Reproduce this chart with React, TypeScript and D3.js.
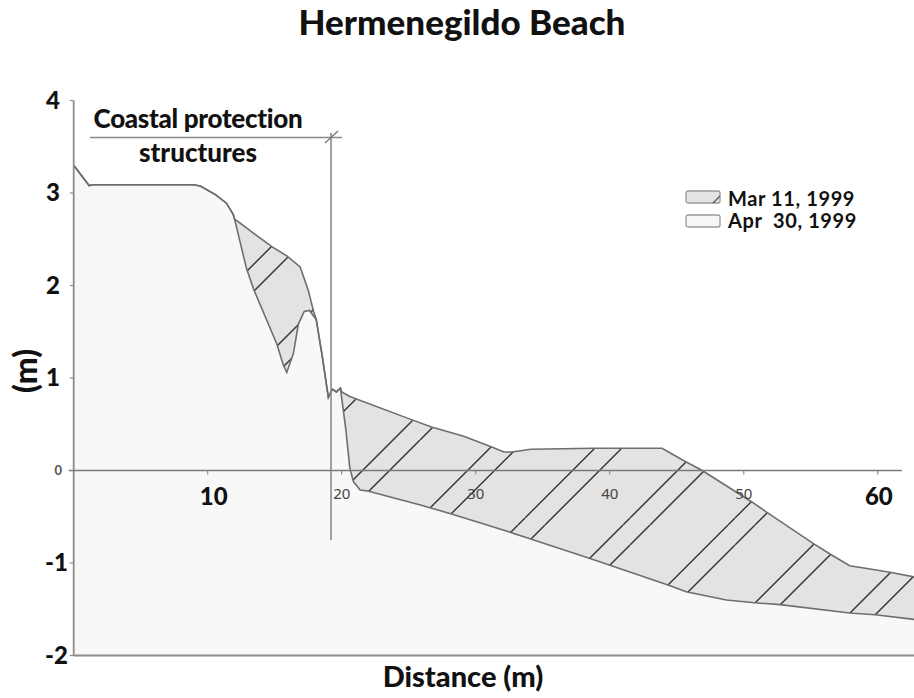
import React, { useRef, useEffect } from 'react';
import * as d3 from 'd3';

// Apr 30, 1999 profile (lower one)
const aprDistance = [0, 1.15, 1.45, 8.9, 9.45, 10.6, 11.4, 11.9, 12.0, 12.9, 13.45, 15.15, 15.64, 15.9, 16.4, 16.76, 17.2, 17.6, 18.1, 18.55, 19.0, 19.3, 19.6, 19.9, 20.3, 20.6, 20.87, 21.37, 21.87, 25.8, 28.2, 32.4, 34.1, 38.3, 39.3, 44.4, 45.7, 48.7, 50.8, 52.7, 57.9, 59.8, 62.7];
const aprElevation = [3.3, 3.08, 3.09, 3.09, 3.075, 2.98, 2.89, 2.77, 2.72, 2.18, 1.95, 1.37, 1.14, 1.06, 1.27, 1.58, 1.72, 1.73, 1.63, 1.23, 0.79, 0.88, 0.85, 0.89, 0.45, 0.03, -0.12, -0.21, -0.22, -0.37, -0.47, -0.66, -0.74, -0.94, -0.99, -1.24, -1.31, -1.4, -1.43, -1.45, -1.54, -1.56, -1.61];

// Mar 11, 1999 profile (upper one)
const marDistance = [0, 1.15, 1.45, 8.9, 9.45, 10.6, 11.4, 11.9, 12.0, 14.78, 15.9, 16.9, 17.5, 17.9, 18.1, 18.55, 19.0, 19.3, 19.6, 19.9, 20.0, 20.6, 25.2, 26.7, 29.1, 31.1, 32.1, 32.7, 34.1, 38.8, 43.9, 45.6, 46.9, 50.6, 51.7, 55.2, 56.4, 57.9, 59.2, 60.9, 62.7];
const marElevation = [3.3, 3.08, 3.09, 3.09, 3.075, 2.98, 2.89, 2.77, 2.72, 2.42, 2.32, 2.2, 1.95, 1.72, 1.63, 1.23, 0.79, 0.88, 0.85, 0.89, 0.85, 0.8, 0.55, 0.47, 0.37, 0.26, 0.2, 0.2, 0.23, 0.24, 0.24, 0.1, 0.0, -0.34, -0.45, -0.79, -0.9, -1.03, -1.06, -1.1, -1.15];

const smallXTicks = [20, 30, 40, 50];
const bigXTicks = [10, 60];
const yTicks = [4, 3, 2, 1, 0, -1, -2];
const legendLabels = ['Mar 11, 1999', 'Apr  30, 1999'];

const FONT = 'Lato, "Open Sans", sans-serif';

const App = () => {
  const svgRef = useRef<SVGSVGElement>(null);

  useEffect(() => {
    const width = 914;
    const height = 698;
    const svg = d3.select(svgRef.current).attr('width', width).attr('height', height);
    svg.selectAll('*').remove();

    const x = d3.scaleLinear().domain([0, 62.7]).range([73.7, 914]);
    const y = d3.scaleLinear().domain([-2, 4]).range([655.5, 100.5]);

    const apr = aprDistance.map((d, i) => [d, aprElevation[i]] as [number, number]);
    const mar = marDistance.map((d, i) => [d, marElevation[i]] as [number, number]);

    // hatch for the eroded sand, two lines per period
    const defs = svg.append('defs');
    const pat = defs
      .append('pattern')
      .attr('id', 'hatch')
      .attr('patternUnits', 'userSpaceOnUse')
      .attr('x', 0)
      .attr('y', 0)
      .attr('width', 105)
      .attr('height', 105);
    [20, 98, 125, 203].forEach((c) => {
      pat
        .append('line')
        .attr('x1', Math.min(c, 105))
        .attr('y1', c - Math.min(c, 105))
        .attr('x2', c - Math.min(c, 105))
        .attr('y2', Math.min(c, 105))
        .attr('stroke', '#333')
        .attr('stroke-width', 1.4);
    });

    const area = d3
      .area<[number, number]>()
      .x((d) => x(d[0]))
      .y0(y(-2))
      .y1((d) => y(d[1]));
    const line = d3
      .line<[number, number]>()
      .x((d) => x(d[0]))
      .y((d) => y(d[1]));

    svg.append('path').attr('d', area(mar)).attr('fill', '#e3e3e3');
    svg.append('path').attr('d', area(mar)).attr('fill', 'url(#hatch)');
    svg.append('path').attr('d', area(apr)).attr('fill', '#f8f8f8');

    svg.append('path').attr('d', line(mar)).attr('fill', 'none').attr('stroke', '#6e6e6e').attr('stroke-width', 1.6);
    svg.append('path').attr('d', line(apr)).attr('fill', 'none').attr('stroke', '#6e6e6e').attr('stroke-width', 1.6);

    // axes
    svg.append('line').attr('x1', x(0)).attr('x2', x(0)).attr('y1', y(4)).attr('y2', y(-2)).attr('stroke', '#8c8c8c').attr('stroke-width', 1.8);
    svg.append('line').attr('x1', x(0)).attr('x2', width).attr('y1', y(-2)).attr('y2', y(-2)).attr('stroke', '#8c8c8c').attr('stroke-width', 1.8);
    svg.append('line').attr('x1', x(0) - 5).attr('x2', x(61.8)).attr('y1', y(0)).attr('y2', y(0)).attr('stroke', '#7a7a7a').attr('stroke-width', 1.6);

    svg
      .selectAll('.ytick')
      .data(yTicks)
      .enter()
      .append('line')
      .attr('x1', x(0) - 4)
      .attr('x2', x(0))
      .attr('y1', (d) => y(d))
      .attr('y2', (d) => y(d))
      .attr('stroke', '#8c8c8c')
      .attr('stroke-width', 1.2);

    svg
      .selectAll('.xtick')
      .data([10, 20, 30, 40, 50, 60])
      .enter()
      .append('line')
      .attr('x1', (d) => x(d))
      .attr('x2', (d) => x(d))
      .attr('y1', y(0))
      .attr('y2', y(0) + 4)
      .attr('stroke', '#7a7a7a')
      .attr('stroke-width', 1);

    svg
      .selectAll('.ylab')
      .data(yTicks.filter((d) => d !== 0))
      .enter()
      .append('text')
      .attr('x', (d) => (d < 0 ? 68 : 60))
      .attr('y', (d) => y(d))
      .attr('dy', '0.35em')
      .attr('text-anchor', 'end')
      .attr('font-family', FONT)
      .attr('font-weight', 900)
      .attr('font-size', 24)
      .attr('fill', '#111')
      .text((d) => (d < 0 ? '-' + Math.abs(d) : d));

    svg
      .append('text')
      .attr('x', 62)
      .attr('y', y(0))
      .attr('dy', '0.35em')
      .attr('text-anchor', 'end')
      .attr('font-family', FONT)
      .attr('font-weight', 700)
      .attr('font-size', 13)
      .attr('fill', '#555')
      .text('0');

    svg
      .selectAll('.xsmall')
      .data(smallXTicks)
      .enter()
      .append('text')
      .attr('x', (d) => x(d))
      .attr('y', y(0) + 28)
      .attr('text-anchor', 'middle')
      .attr('font-family', '"Noto Sans", sans-serif')
      .attr('font-size', 15)
      .attr('fill', '#444')
      .text((d) => d);

    svg
      .selectAll('.xbig')
      .data(bigXTicks)
      .enter()
      .append('text')
      .attr('x', (d) => (d === 10 ? x(d) + 6 : x(d) + 1))
      .attr('y', y(0) + 34)
      .attr('text-anchor', 'middle')
      .attr('font-family', FONT)
      .attr('font-weight', 900)
      .attr('font-size', 24)
      .attr('fill', '#111')
      .text((d) => d);

    // coastal protection structures marker
    const cx = x(19.2);
    svg.append('line').attr('x1', cx).attr('x2', cx).attr('y1', 133).attr('y2', 540).attr('stroke', '#8a8a8a').attr('stroke-width', 1.6);
    svg.append('line').attr('x1', 90).attr('x2', 342).attr('y1', 137.5).attr('y2', 137.5).attr('stroke', '#8a8a8a').attr('stroke-width', 1.6);
    svg.append('line').attr('x1', cx - 6).attr('x2', cx + 7).attr('y1', 143).attr('y2', 131).attr('stroke', '#777').attr('stroke-width', 1.3);
    svg
      .append('text')
      .attr('x', 198)
      .attr('y', 128)
      .attr('text-anchor', 'middle')
      .attr('font-family', FONT)
      .attr('font-weight', 900)
      .attr('font-size', 26)
      .attr('letter-spacing', -0.3)
      .attr('fill', '#111')
      .text('Coastal protection');
    svg
      .append('text')
      .attr('x', 198)
      .attr('y', 162)
      .attr('text-anchor', 'middle')
      .attr('font-family', FONT)
      .attr('font-weight', 900)
      .attr('font-size', 26)
      .attr('fill', '#111')
      .text('structures');

    // legend
    const legend = svg.append('g').attr('transform', 'translate(686,191)');
    legendLabels.forEach((label, i) => {
      const g = legend.append('g').attr('transform', `translate(0,${i * 24})`);
      g.append('rect')
        .attr('width', 34)
        .attr('height', 12)
        .attr('rx', 2)
        .attr('fill', i === 0 ? '#e3e3e3' : '#f6f6f6')
        .attr('stroke', '#999')
        .attr('stroke-width', 1.3);
      if (i === 0) {
        g.append('line').attr('x1', 27).attr('y1', 12).attr('x2', 34).attr('y2', 5).attr('stroke', '#555').attr('stroke-width', 1.2);
      }
      g.append('text')
        .attr('x', 42)
        .attr('y', i === 0 ? 14.5 : 12.5)
        .attr('font-family', FONT)
        .attr('font-weight', 700)
        .attr('font-size', 20)
        .attr('letter-spacing', 0.6)
        .attr('fill', '#111')
        .attr('xml:space', 'preserve')
        .style('white-space', 'pre')
        .text(label);
    });

    // titles
    svg
      .append('text')
      .attr('x', 462)
      .attr('y', 35)
      .attr('text-anchor', 'middle')
      .attr('font-family', FONT)
      .attr('font-weight', 900)
      .attr('font-size', 35)
      .attr('fill', '#111')
      .text('Hermenegildo Beach');

    svg
      .append('text')
      .attr('x', 463)
      .attr('y', 687)
      .attr('text-anchor', 'middle')
      .attr('font-family', FONT)
      .attr('font-weight', 900)
      .attr('font-size', 29)
      .attr('fill', '#111')
      .text('Distance (m)');

    svg
      .append('text')
      .attr('transform', `translate(37,${y(1) - 7}) rotate(-90)`)
      .attr('text-anchor', 'middle')
      .attr('font-family', FONT)
      .attr('font-weight', 900)
      .attr('font-size', 32)
      .attr('fill', '#111')
      .text('(m)');
  }, []);

  return (
    <div className="beach-profile">
      <svg ref={svgRef} style={{ position: 'absolute', left: 0, top: 0 }} />
    </div>
  );
};

export default App;
